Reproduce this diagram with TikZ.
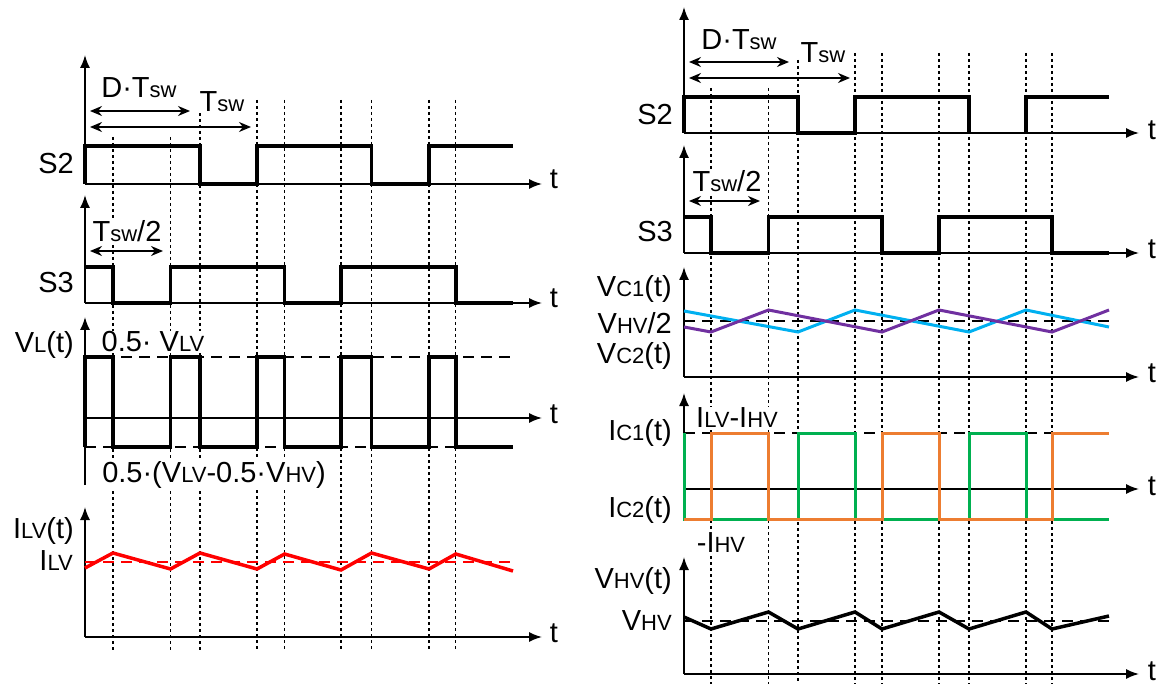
\documentclass[tikz,border=0pt]{standalone}
\usepackage{fontspec}
\setmainfont{Liberation Sans}
\usetikzlibrary{arrows.meta}
\definecolor{wred}{RGB}{255,0,0}
\definecolor{wblue}{RGB}{0,176,240}
\definecolor{wpurple}{RGB}{112,48,160}
\definecolor{wgreen}{RGB}{0,176,80}
\definecolor{worange}{RGB}{237,125,49}
\newcommand{\sbs}[1]{{\fontsize{22}{24}\selectfont #1}}
\begin{document}
\begin{tikzpicture}[x=1pt,y=-1pt,
  axis/.style={line width=1.6pt,-{Latex[length=13pt,width=10pt]}},
  wave/.style={line width=3.5pt,line join=miter},
  dotl/.style={line width=1.3pt,dash pattern=on 3pt off 3pt},
  lvl/.style={line width=1.3pt,dash pattern=on 11pt off 7pt},
  dimarrow/.style={line width=1.5pt,{Stealth[length=12pt,width=10pt]}-{Stealth[length=12pt,width=10pt]}},
  lbl/.style={font=\fontsize{29}{32}\selectfont,inner sep=1pt,fill=white},
  tlbl/.style={font=\fontsize{29}{32}\selectfont,inner sep=0pt,anchor=base}]
\useasboundingbox (0,0) rectangle (1159,684);

% ---------------- dotted time markers ----------------
\foreach \x/\y in {113/137,170.5/137,200/107,257/100,284.6/100,341/100,371.5/100,429/100,455.8/100}
  \draw[dotl] (\x,\y) -- (\x,650);
\foreach \x/\y in {711/88,768.5/88,798/60,855/53,882/53,939/53,969/53,1026/53,1052/53}
  \draw[dotl] (\x,\y) -- (\x,684);

% ================= LEFT PANEL =================
% S2
\coordinate (aL1o) at (85,184);
\draw[axis] (aL1o) -- (85,55);
\draw[axis] (aL1o) -- (542,184);
\draw[wave] (85,184) -- (85,146) -- (200,146) -- (200,184) -- (257,184) -- (257,146) -- (371.5,146) -- (371.5,184) -- (429,184) -- (429,146) -- (513,146);
\node[lbl,anchor=base east] (lS2) at (75,174) {S2};
\node[tlbl] (lt1) at (554,189) {t};
\coordinate (dL1a) at (90,111); \coordinate (dL1b) at (190,111);
\coordinate (dL2a) at (90,127); \coordinate (dL2b) at (251,127);
\draw[dimarrow] (dL1a) -- (dL1b);
\draw[dimarrow] (dL2a) -- (dL2b);
\node[lbl,anchor=base] (lDT) at (139,98) {D·T\sbs{sw}};
\node[lbl,anchor=base] (lT) at (222,112) {T\sbs{sw}};

% S3
\coordinate (aL2o) at (85,303);
\draw[axis] (aL2o) -- (85,195);
\draw[axis] (aL2o) -- (542,303);
\draw[wave] (85,267) -- (113,267) -- (113,303) -- (170.5,303) -- (170.5,267) -- (284.6,267) -- (284.6,303) -- (341,303) -- (341,267) -- (455.8,267) -- (455.8,303) -- (513,303);
\node[lbl,anchor=base east] (lS3) at (75,293) {S3};
\node[tlbl] (lt2) at (554,308) {t};
\coordinate (dL3a) at (90,251); \coordinate (dL3b) at (163,251);
\draw[dimarrow] (dL3a) -- (dL3b);
\node[lbl,anchor=base] (lTh) at (127,242) {T\sbs{sw}/2};

% VL
\coordinate (aL3o) at (85,418);
\draw[line width=1.6pt] (85,485) -- (aL3o);
\draw[axis] (aL3o) -- (85,317);
\draw[axis] (aL3o) -- (542,418);
\draw[lvl] (85,357) -- (513,357);
\draw[lvl] (85,447) -- (513,447);
\draw[wave] (85,447) -- (85,357) -- (113,357) -- (113,447) -- (170.5,447) -- (170.5,357) -- (200,357) -- (200,447) -- (257,447) -- (257,357) -- (284.6,357) -- (284.6,447) -- (341,447) -- (341,357) -- (371.5,357) -- (371.5,447) -- (429,447) -- (429,357) -- (455.8,357) -- (455.8,447) -- (513,447);
\node[lbl,anchor=base east] (lVL) at (75,353) {V\sbs{L}(t)};
\node[lbl,anchor=base] (lVp) at (153,352) {0.5· V\sbs{LV}};
\node[lbl,anchor=base] (lVm) at (214,482) {0.5·(V\sbs{LV}-0.5·V\sbs{HV})};
\node[tlbl] (lt3) at (554,423) {t};

% ILV
\coordinate (aL4o) at (85,637);
\draw[axis] (aL4o) -- (85,507);
\draw[axis] (aL4o) -- (542,637);
\draw[wred,lvl] (85,562) -- (513,562);
\draw[wred,line width=3.5pt] (85,568) -- (113,553) -- (170.5,569) -- (200,553) -- (257,569) -- (284.6,554) -- (341,570) -- (371.5,553) -- (429,569) -- (455.8,554) -- (513,571);
\node[lbl,anchor=base east] (lIt) at (75,538) {I\sbs{LV}(t)};
\node[lbl,anchor=base east] (lI) at (74,570) {I\sbs{LV}};
\node[tlbl] (lt4) at (554,642) {t};

% ================= RIGHT PANEL =================
% S2
\coordinate (aR1o) at (684,133);
\draw[axis] (aR1o) -- (684,7);
\draw[axis] (aR1o) -- (1139,133);
\draw[wave] (684,133) -- (684,97) -- (798,97) -- (798,133) -- (855,133) -- (855,97) -- (969,97) -- (969,133);
\draw[wave] (1026,133) -- (1026,97) -- (1109,97);
\node[lbl,anchor=base east] (rS2) at (674,125) {S2};
\node[tlbl] (rt1) at (1152,140) {t};
\coordinate (dR1a) at (689,62); \coordinate (dR1b) at (789,62);
\coordinate (dR2a) at (689,78); \coordinate (dR2b) at (850,78);
\draw[dimarrow] (dR1a) -- (dR1b);
\draw[dimarrow] (dR2a) -- (dR2b);
\node[lbl,anchor=base] (rDT) at (739,50) {D·T\sbs{sw}};
\node[lbl,anchor=base] (rT) at (823,63) {T\sbs{sw}};

% S3
\coordinate (aR2o) at (684,253);
\draw[axis] (aR2o) -- (684,145);
\draw[axis] (aR2o) -- (1139,253);
\draw[wave] (684,217) -- (711,217) -- (711,253) -- (768.5,253) -- (768.5,217) -- (882,217) -- (882,253) -- (939,253) -- (939,217) -- (1052,217) -- (1052,253) -- (1109,253);
\node[lbl,anchor=base east] (rS3) at (674,242) {S3};
\node[tlbl] (rt2) at (1152,259) {t};
\coordinate (dR3a) at (689,201); \coordinate (dR3b) at (760,201);
\draw[dimarrow] (dR3a) -- (dR3b);
\node[lbl,anchor=base] (rTh) at (727,192) {T\sbs{sw}/2};

% VC
\coordinate (aR3o) at (684,377);
\draw[axis] (aR3o) -- (684,267);
\draw[axis] (aR3o) -- (1139,377);
\draw[lvl] (684,321) -- (1109,321);
\draw[wblue,line width=3pt] (684,311) -- (798,332) -- (855,310) -- (969,332) -- (1026,310) -- (1109,327);
\draw[wpurple,line width=3pt] (684,327) -- (711,332) -- (768.5,310) -- (882,332) -- (939,310) -- (1052,332) -- (1109,310);
\node[lbl,anchor=base east,fill=none] (rVC1) at (673,297) {V\sbs{C1}(t)};
\node[lbl,anchor=base east,fill=none] (rVh) at (673,334) {V\sbs{HV}/2};
\node[lbl,anchor=base east,fill=none] (rVC2) at (673,363) {V\sbs{C2}(t)};
\node[tlbl] (rt3) at (1152,383) {t};

% IC
\coordinate (aR4o) at (684,489);
\draw[line width=1.6pt] (684,519) -- (aR4o);
\draw[axis] (aR4o) -- (684,393);
\draw[axis] (aR4o) -- (1139,489);
\draw[lvl] (684,433) -- (1109,433);
\draw[wgreen,line width=3pt] (684,433) -- (684,519) -- (798,519) -- (798,433) -- (855,433) -- (855,519) -- (969,519) -- (969,433) -- (1026,433) -- (1026,519) -- (1109,519);
\draw[worange,line width=3pt] (684,519) -- (711,519) -- (711,433) -- (768.5,433) -- (768.5,519) -- (882,519) -- (882,433) -- (939,433) -- (939,519) -- (1052,519) -- (1052,433) -- (1109,433);
\node[lbl,anchor=base east,fill=none] (rIC1) at (673,440) {I\sbs{C1}(t)};
\node[lbl,anchor=base east,fill=none] (rIC2) at (673,517) {I\sbs{C2}(t)};
\node[lbl,anchor=base] (rIp) at (737,428) {I\sbs{LV}-I\sbs{HV}};
\node[lbl,anchor=base] (rIm) at (721,552) {-I\sbs{HV}};
\node[tlbl] (rt4) at (1152,495) {t};

% VHV
\coordinate (aR5o) at (684,674);
\draw[axis] (aR5o) -- (684,557);
\draw[axis] (aR5o) -- (1139,674);
\draw[lvl] (684,621) -- (1109,621);
\draw[line width=3.5pt] (684,617) -- (711,629) -- (768.5,612) -- (798,629) -- (855,612) -- (882,629) -- (939,612) -- (969,629) -- (1026,612) -- (1052,629) -- (1109,616);
\node[lbl,anchor=base east,fill=none] (rVt) at (673,588) {V\sbs{HV}(t)};
\node[lbl,anchor=base east,fill=none] (rV) at (673,630) {V\sbs{HV}};
\node[tlbl] (rt5) at (1152,680) {t};
\end{tikzpicture}
\end{document}
